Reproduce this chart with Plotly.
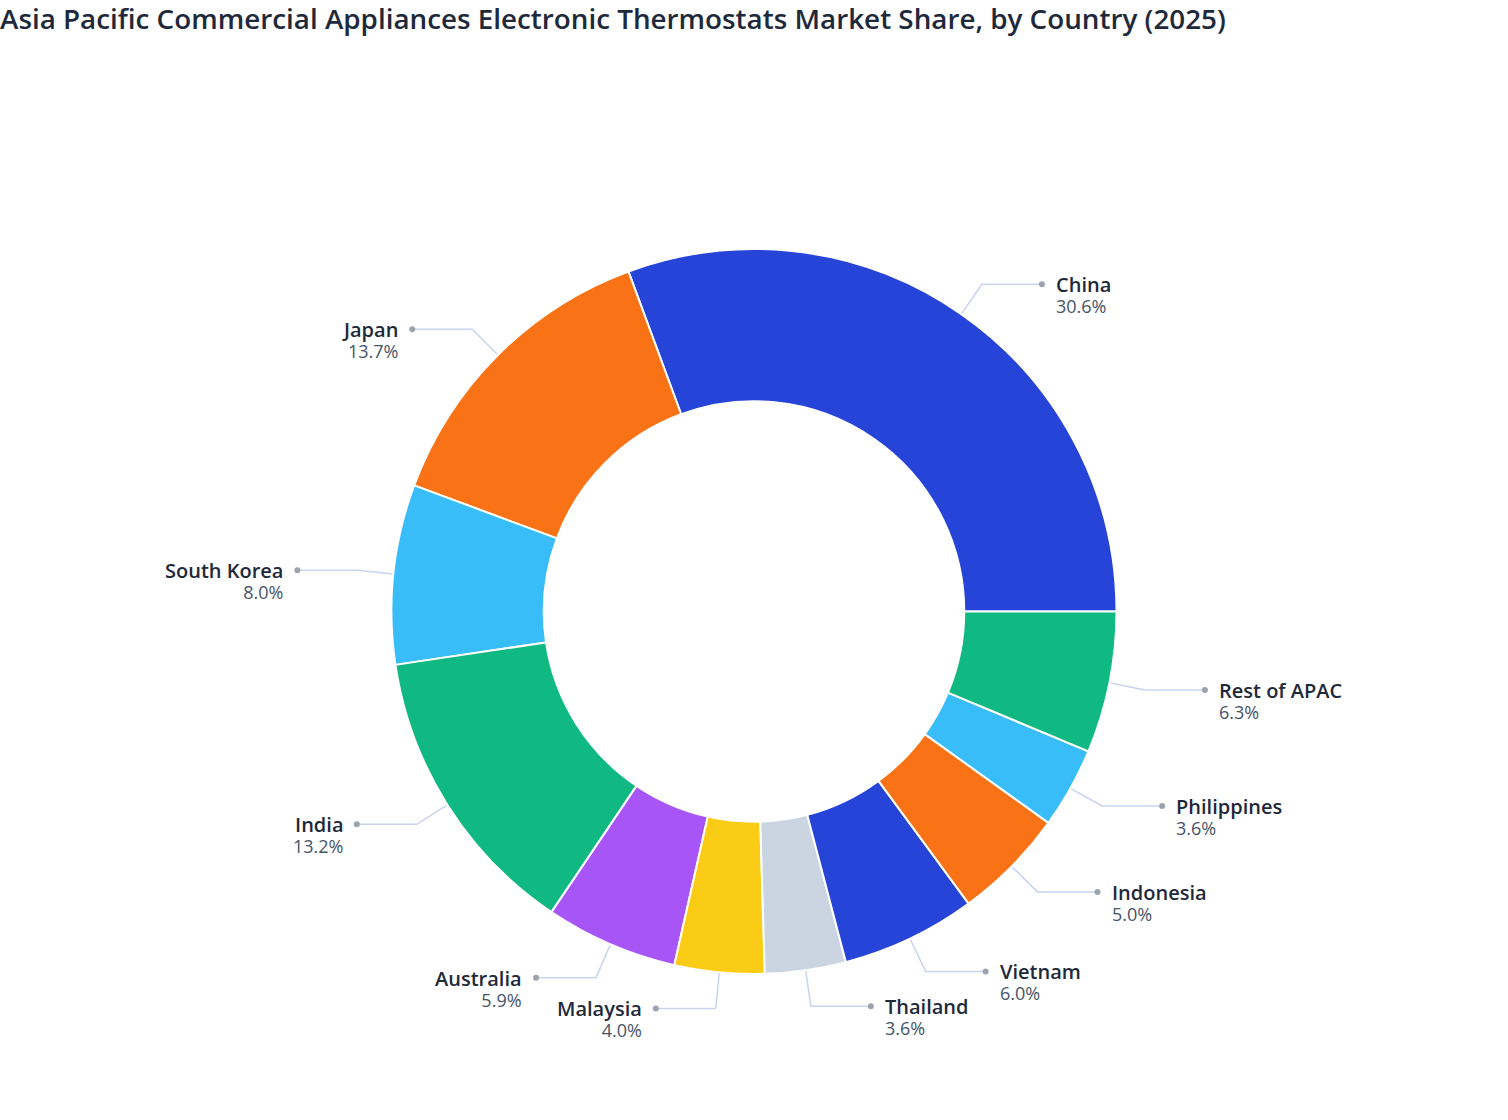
import math
import plotly.graph_objects as go

countries = ["China", "Japan", "South Korea", "India", "Australia", "Malaysia",
             "Thailand", "Vietnam", "Indonesia", "Philippines", "Rest of APAC"]
shares = [30.6, 13.7, 8.0, 13.2, 5.9, 4.0, 3.6, 6.0, 5.0, 3.6, 6.3]
palette = ["#2744d9", "#f97316", "#38bdf8", "#10b981", "#a855f7", "#facc15", "#cbd5e1"]
title_text = "Asia Pacific Commercial Appliances Electronic Thermostats Market Share, by Country (2025)"

colors = [palette[i % len(palette)] for i in range(len(countries))]

W, H = 1508, 1120
ML, MR, MT, MB = 80, 80, 249, 146
pw, ph = W - ML - MR, H - MT - MB
cx, cy = ML + pw / 2, MT + ph / 2
R = min(pw, ph) / 2
total = sum(shares)
angles = [360 * v / total for v in shares]
rotation = 90 - angles[0]  # first slice ends at 3 o'clock

fig = go.Figure(go.Pie(
    labels=countries, values=shares, sort=False,
    direction="counterclockwise", rotation=rotation, hole=0.58,
    marker=dict(colors=colors, line=dict(color="white", width=2)),
    textinfo="none", hoverinfo="label+percent", showlegend=False,
))


def to_paper(px, py):
    return (px - ML) / pw, 1 - (py - MT) / ph


shapes = []
annotations = []
theta = rotation + angles[0]
for name, val, a in zip(countries, shares, angles):
    mid = theta - a / 2
    theta -= a
    s, c = math.sin(math.radians(mid)), math.cos(math.radians(mid))
    p0 = (cx + R * s, cy - R * c)
    p1 = (cx + 1.1 * R * s, cy - 1.1 * R * c)
    side = 1 if s >= 0 else -1
    p2 = (p1[0] + side * 60, p1[1])
    pts = [to_paper(*p) for p in (p0, p1, p2)]
    path = "M {},{} L {},{} L {},{}".format(*[v for p in pts for v in p])
    shapes.append(dict(type="path", path=path, xref="paper", yref="paper",
                       line=dict(color="#c9d3f0", width=1.5), layer="below"))
    d0 = to_paper(p2[0] - 3, p2[1] + 3)
    d1 = to_paper(p2[0] + 3, p2[1] - 3)
    shapes.append(dict(type="circle", xref="paper", yref="paper",
                       x0=d0[0], y0=d0[1], x1=d1[0], y1=d1[1],
                       fillcolor="#9ca3af", line=dict(width=0)))
    tx = p2[0] + side * 12
    xa = "left" if side > 0 else "right"
    ax, ay = to_paper(tx, p2[1] + 10.5)
    text = (f'<span style="font-size:20px;font-weight:600;color:#1e293b">{name}</span>'
            f'<br><span style="font-size:18px">{val:.1f}%</span>')
    annotations.append(dict(x=ax, y=ay, xref="paper", yref="paper", text=text,
                            showarrow=False, xanchor=xa, yanchor="middle", align=xa,
                            font=dict(size=16.5, color="#475569", family="Open Sans")))

fig.update_layout(
    width=W, height=H,
    margin=dict(l=ML, r=MR, t=MT, b=MB),
    paper_bgcolor="white", plot_bgcolor="white",
    title=dict(text=title_text, x=0, xref="container", xanchor="left",
               y=1 - 19 / H, yref="container", yanchor="middle",
               font=dict(size=27.8, color="#1e293b", family="Open Sans", weight=600)),
    shapes=shapes, annotations=annotations,
)

fig.write_html("out.html", config={"displayModeBar": False},
               post_script="document.body.style.margin='0';")
